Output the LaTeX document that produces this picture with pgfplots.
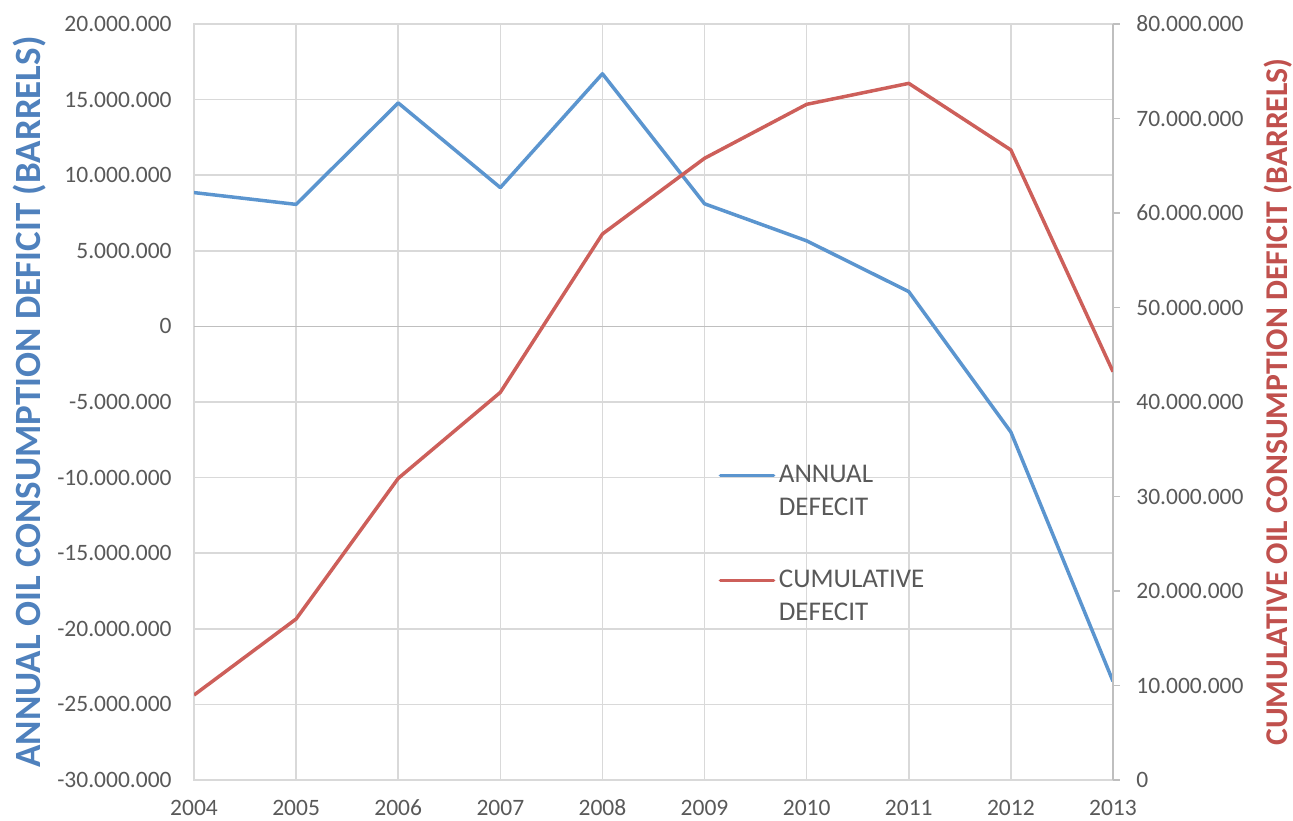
\documentclass[border=0pt]{standalone}
\usepackage{pgfplots}
\pgfplotsset{compat=1.18}
\usepackage{fontspec}
\setmainfont{Carlito}
\definecolor{annual}{HTML}{5B95CF}
\definecolor{cumul}{HTML}{CD5F5A}
\definecolor{titleblue}{HTML}{4F81BD}
\definecolor{titlered}{HTML}{C0504D}
\definecolor{gridc}{HTML}{D9D9D9}
\definecolor{axisc}{HTML}{BFBFBF}
\definecolor{tickc}{HTML}{595959}
\pgfplotsset{/pgf/number format/assume math mode=true}
\begin{document}
\begin{tikzpicture}
\path[use as bounding box] (-97pt,-20pt) rectangle (549.5pt,390pt);
\begin{axis}[
  at={(0,0)}, anchor=south west,
  scale only axis, width=459.5pt, height=378pt,
  xmin=2004, xmax=2013, ymin=-30000000, ymax=20000000,
  xtick={2004,2005,2006,2007,2008,2009,2010,2011,2012,2013},
  ytick={-30000000,-25000000,-20000000,-15000000,-10000000,-5000000,0,5000000,10000000,15000000,20000000},
  grid=major, major grid style={draw=gridc, line width=0.8pt},
  axis line style={draw=gridc, line width=0.8pt},
  major tick length=0pt, tick style={draw=none},
  scaled y ticks=false,
  extra y ticks={0}, extra y tick labels={},
  extra y tick style={major grid style={draw=axisc, line width=0.8pt}},
  yticklabel style={/pgf/number format/.cd, fixed, precision=0, 1000 sep={.}, /tikz/.cd,
    font=\fontsize{11.75}{14}\selectfont, text=tickc, inner sep=0pt, xshift=-11pt},
  xticklabel style={/pgf/number format/.cd, 1000 sep={}, /tikz/.cd,
    font=\fontsize{11.75}{14}\selectfont, text=tickc, inner sep=0pt, anchor=base, yshift=-17.5pt},
  ylabel={ANNUAL OIL CONSUMPTION DEFICIT (BARRELS)},
  ylabel style={at={(axis description cs:-0.1668,0.5)}, anchor=base, inner sep=0pt,
    font=\fontsize{18.5}{22}\selectfont\bfseries, text=titleblue},
]
\addplot[annual, line width=1.75pt, line join=round] coordinates {
  (2004,8850000) (2005,8070000) (2006,14780000) (2007,9180000) (2008,16710000)
  (2009,8110000) (2010,5660000) (2011,2300000) (2012,-6990000) (2013,-23470000)
};
\end{axis}
\begin{axis}[
  at={(0,0)}, anchor=south west,
  scale only axis, width=459.5pt, height=378pt,
  xmin=2004, xmax=2013, ymin=0, ymax=80000000,
  axis x line=none, axis y line*=right,
  ytick={0,10000000,20000000,30000000,40000000,50000000,60000000,70000000,80000000},
  y axis line style={draw=axisc, line width=0.8pt},
  ytick style={draw=axisc, line width=0.8pt},
  tick align=outside, major tick length=3.5pt,
  scaled y ticks=false,
  yticklabel style={/pgf/number format/.cd, fixed, precision=0, 1000 sep={.}, /tikz/.cd,
    font=\fontsize{11.75}{14}\selectfont, text=tickc, inner sep=0pt, xshift=8pt},
  ylabel={CUMULATIVE OIL CONSUMPTION DEFICIT (BARRELS)},
  ylabel style={at={(axis description cs:1.1904,0.5)}, anchor=base, inner sep=0pt,
    font=\fontsize{15.85}{19}\selectfont\bfseries, text=titlered},
  legend cell align=left,
  legend image code/.code={\draw[#1, line cap=round] (0pt,8.25pt) -- (26.6pt,8.25pt);},
  legend style={at={(rel axis cs:0.5705,0.4167)}, anchor=north west, draw=none, fill=none,
    inner sep=0pt, column sep=1.75pt, row sep=25.8pt,
    font=\fontsize{13.5}{16.5}\selectfont,
    nodes={inner sep=0pt, align=left, text=tickc}},
]
\addlegendimage{annual, line width=1.75pt}
\addlegendentry{ANNUAL\\DEFECIT}
\addplot[cumul, line width=1.75pt, line join=round] coordinates {
  (2004,8990000) (2005,17040000) (2006,31920000) (2007,41020000) (2008,57780000)
  (2009,65790000) (2010,71500000) (2011,73720000) (2012,66670000) (2013,43210000)
};
\addlegendentry{CUMULATIVE\\DEFECIT}
\end{axis}
\end{tikzpicture}
\end{document}
